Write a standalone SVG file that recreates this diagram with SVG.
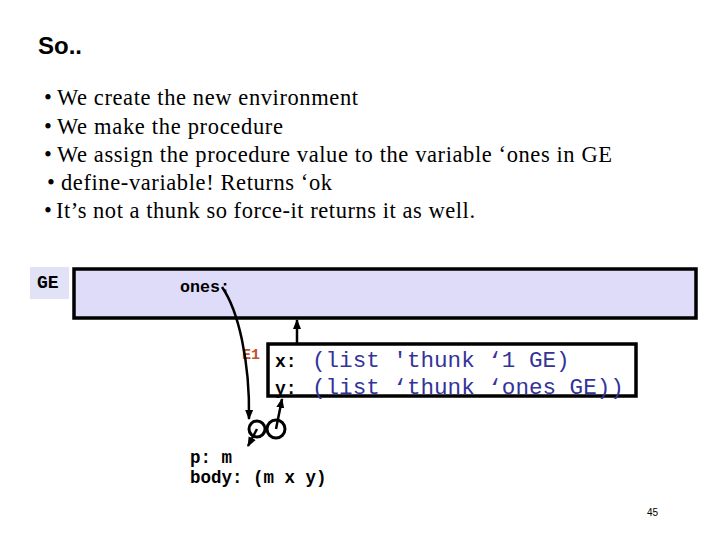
<svg xmlns="http://www.w3.org/2000/svg" width="720" height="540" viewBox="0 0 720 540">
<style>
.title{font-family:"Liberation Sans",Arial,sans-serif;font-weight:bold;font-size:24px;fill:#000}
.bul{font-family:"Liberation Serif","Times New Roman",serif;font-size:22.5px;fill:#000}
.mono{font-family:"Liberation Mono","Courier New",monospace;font-weight:bold;fill:#000}
.val{font-family:"Liberation Mono","Courier New",monospace;font-size:22.6px;fill:#333399}
.frame{fill:#dedcf8;stroke:#000;stroke-width:3.5}
.conn{fill:none;stroke:#000;stroke-width:2.5}
.pg{font-family:"Liberation Sans",Arial,sans-serif;font-size:10px;fill:#000}
</style>
<defs>
<marker id="ah" viewBox="0 0 10 10" refX="9" refY="5" markerWidth="4" markerHeight="4" orient="auto" markerUnits="strokeWidth">
<path d="M0,1 L10,5 L0,9 z" fill="#000"/>
</marker>
</defs>
<rect width="720" height="540" fill="#fff"/>
<text class="title" x="38" y="54">So..</text>
<g id="bullets">
<text class="bul" x="44" y="105">•</text>
<text class="bul" x="57" y="105" textLength="301" lengthAdjust="spacing">We create the new environment</text>
<text class="bul" x="44" y="134">•</text>
<text class="bul" x="57" y="134" textLength="226" lengthAdjust="spacing">We make the procedure</text>
<text class="bul" x="44" y="162">•</text>
<text class="bul" x="57" y="162" textLength="555" lengthAdjust="spacing">We assign the procedure value to the variable ‘ones in GE</text>
<text class="bul" x="47" y="190">•</text>
<text class="bul" x="61" y="190" textLength="271" lengthAdjust="spacing">define-variable! Returns ‘ok</text>
<text class="bul" x="44" y="218">•</text>
<text class="bul" x="56" y="218" textLength="419" lengthAdjust="spacing">It’s not a thunk so force-it returns it as well.</text>
</g>
<g id="GE">
<rect x="30" y="267" width="39" height="32" fill="#e2e2f6"/>
<text class="mono" x="37" y="288" font-size="18">GE</text>
<rect class="frame" x="74" y="269" width="622" height="49"/>
<text class="mono" x="180" y="292" font-size="16.7">ones:</text>
</g>
<g id="E1">
<rect x="268" y="344" width="368" height="52" fill="#fff" stroke="#000" stroke-width="3.5"/>
<text class="mono" x="242" y="359" font-size="15" style="fill:#c4502c">E1</text>
<text class="mono" x="275" y="367" font-size="18">x:</text>
<text class="val" x="312" y="367">(list 'thunk ‘1 GE)</text>
<text class="mono" x="275" y="394" font-size="18">y:</text>
<text class="val" x="312" y="394">(list ‘thunk ‘ones GE))</text>
</g>
<g id="proc">
<circle cx="257" cy="429" r="8" fill="none" stroke="#000" stroke-width="3"/>
<circle cx="276" cy="429" r="9" fill="none" stroke="#000" stroke-width="3"/>
<text class="mono" x="190" y="463" font-size="17.5">p: m</text>
<text class="mono" x="190" y="483" font-size="17.5">body: (m x y)</text>
</g>
<g id="connectors">
<path class="conn" d="M222,287 C238,310 250,360 249,419" marker-end="url(#ah)"/>
<path class="conn" d="M297,344 L297,320" marker-end="url(#ah)"/>
<path class="conn" d="M276,429 L282,399" marker-end="url(#ah)"/>
<path class="conn" d="M257,429 L248,446" marker-end="url(#ah)"/>
</g>
<text class="pg" x="647" y="516">45</text>
</svg>
